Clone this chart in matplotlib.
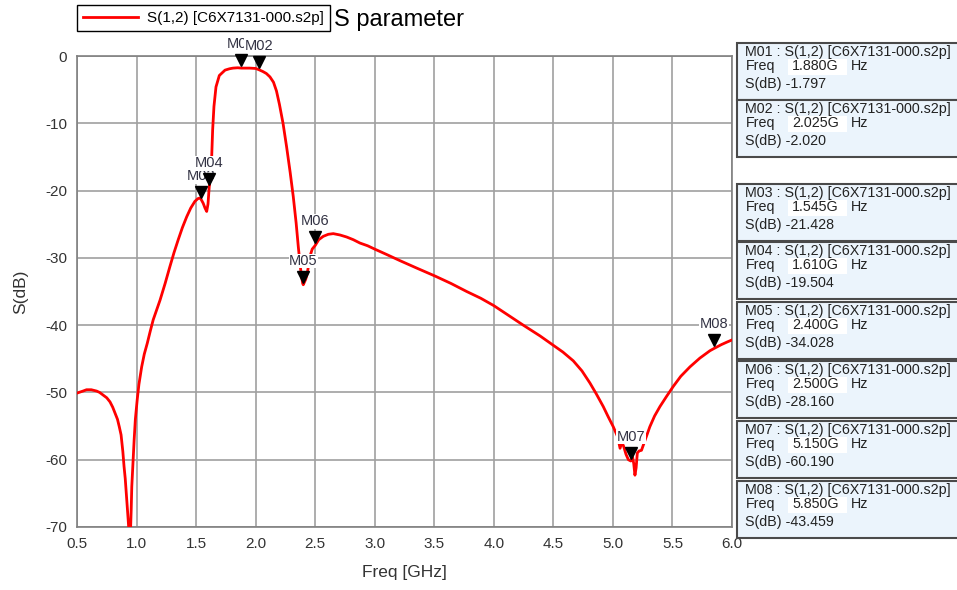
import matplotlib
matplotlib.use("Agg")
import matplotlib.pyplot as plt
from matplotlib.patches import Rectangle
from matplotlib.transforms import offset_copy

plt.rcParams['font.family'] = ['Liberation Sans', 'DejaVu Sans']

# ---- curve data ----
freq = [0.50, 0.55, 0.58, 0.62, 0.665, 0.69, 0.72, 0.75, 0.777, 0.80, 0.82, 0.84,
        0.855, 0.87, 0.875, 0.885, 0.895, 0.905, 0.91, 0.92, 0.93, 0.945, 0.955,
        0.96, 0.97, 0.98, 0.99, 1.006, 1.02, 1.043, 1.065, 1.09, 1.115, 1.14,
        1.169, 1.197, 1.24, 1.28, 1.315, 1.35, 1.385, 1.421, 1.455, 1.49, 1.515,
        1.533, 1.545, 1.56, 1.575, 1.589, 1.60, 1.61, 1.617, 1.631, 1.639, 1.65,
        1.667, 1.695, 1.743, 1.78, 1.81, 1.85, 1.88, 1.95, 2.00, 2.025, 2.06,
        2.09, 2.12, 2.15, 2.175, 2.20, 2.23, 2.26, 2.29, 2.316, 2.34, 2.358,
        2.375, 2.386, 2.395, 2.40, 2.41, 2.42, 2.43, 2.44, 2.456, 2.475, 2.50,
        2.53, 2.568, 2.61, 2.652, 2.708, 2.764, 2.82, 2.876, 2.94, 3.00, 3.10,
        3.21, 3.35, 3.506, 3.64, 3.772, 3.89, 4.00, 4.12, 4.247, 4.388, 4.50,
        4.58, 4.667, 4.74, 4.807, 4.86, 4.919, 4.96, 5.003, 5.04, 5.06, 5.075,
        5.09, 5.11, 5.13, 5.15, 5.165, 5.175, 5.185, 5.195, 5.205, 5.22, 5.24,
        5.27, 5.31, 5.35, 5.395, 5.45, 5.507, 5.57, 5.647, 5.73, 5.815, 5.85,
        5.91, 5.96, 6.00]
sdb = [-50.1, -49.8, -49.6, -49.6, -49.8, -50.0, -50.4, -50.8, -51.4, -52.2, -53.1, -54.0,
       -55.1, -56.3, -57.1, -58.8, -61.0, -62.8, -64.0, -66.5, -69.0, -73.0, -67.5,
       -64.0, -60.5, -57.0, -54.0, -51.0, -48.8, -46.2, -44.3, -42.7, -40.9, -39.2,
       -37.7, -36.3, -33.8, -31.3, -29.2, -27.3, -25.5, -23.9, -22.6, -21.6, -21.2,
       -21.1, -21.4, -21.9, -22.6, -23.1, -22.0, -19.5, -18.5, -15.0, -11.0, -7.5,
       -4.6, -2.9, -2.1, -1.9, -1.8, -1.75, -1.8, -1.8, -1.85, -2.02, -2.3,
       -2.6, -3.1, -3.9, -5.2, -7.2, -10.0, -13.5, -17.3, -20.9, -24.8, -28.3,
       -31.3, -32.8, -33.8, -34.0, -33.6, -33.2, -32.6, -31.6, -29.8, -28.7, -28.16,
       -27.3, -26.8, -26.5, -26.4, -26.6, -26.9, -27.3, -27.8, -28.2, -28.7, -29.5,
       -30.4, -31.5, -32.7, -33.8, -35.0, -36.0, -37.1, -38.5, -40.0, -41.6, -43.0,
       -44.0, -45.3, -46.8, -48.6, -50.2, -52.1, -53.6, -55.1, -56.6, -58.3, -57.4,
       -58.0, -59.2, -60.0, -60.19, -59.6, -60.6, -62.3, -61.2, -59.0, -58.7, -58.6,
       -57.1, -55.1, -53.5, -52.1, -50.6, -49.1, -47.6, -46.2, -44.9, -43.8, -43.46,
       -42.9, -42.5, -42.2]

# ---- markers ----
marker_names = ["M01", "M02", "M03", "M04", "M05", "M06", "M07", "M08"]
marker_freq = [1.880, 2.025, 1.545, 1.610, 2.400, 2.500, 5.150, 5.850]
marker_db = [-1.797, -2.020, -21.428, -19.504, -34.028, -28.160, -60.190, -43.459]
marker_freq_txt = ["1.880G", "2.025G", "1.545G", "1.610G", "2.400G", "2.500G", "5.150G", "5.850G"]
marker_db_txt = ["-1.797", "-2.020", "-21.428", "-19.504", "-34.028", "-28.160", "-60.190", "-43.459"]
# box top positions (pixels from top of figure)
box_tops = [43, 100, 184, 242, 302, 361, 421, 481]

trace_label = "S(1,2) [C6X7131-000.s2p]"
xticks = [0.5, 1.0, 1.5, 2.0, 2.5, 3.0, 3.5, 4.0, 4.5, 5.0, 5.5, 6.0]
yticks = [0, -10, -20, -30, -40, -50, -60, -70]

W, H = 957, 590
fig = plt.figure(figsize=(W / 100, H / 100), dpi=100)
ax = fig.add_axes([77 / W, 1 - 527 / H, (732 - 77) / W, (527 - 56) / H])

ax.plot(freq, sdb, color="#ff0000", lw=2.0, label=trace_label, zorder=3)
ax.set_xlim(0.5, 6.0)
ax.set_ylim(-70, 0)
ax.set_xticks(xticks)
ax.set_xticklabels([f"{t:.1f}" for t in xticks])
ax.set_yticks(yticks)
ax.set_yticklabels([str(t) for t in yticks])
ax.grid(True, color="#a0a0a0", lw=1.2)
ax.set_axisbelow(True)
ax.tick_params(length=0, labelsize=11, colors="#333333", pad=7)
for sp in ax.spines.values():
    sp.set_color("#808080")
    sp.set_linewidth(1.2)
ax.set_xlabel("Freq [GHz]", fontsize=12.5, color="#333333", labelpad=10)
ax.set_ylabel("S(dB)", fontsize=12.5, color="#333333", labelpad=12)

# markers on the trace
tri_tr = offset_copy(ax.transData, fig=fig, x=0, y=8, units='dots')
lab_tr = offset_copy(ax.transData, fig=fig, x=0, y=24, units='dots')
for i, (n, f, d) in enumerate(zip(marker_names, marker_freq, marker_db)):
    ax.text(f, d, n, transform=lab_tr, ha="center", va="center", fontsize=10.5,
            color="#333344", zorder=5 + 2 * i, clip_on=False,
            bbox=dict(facecolor="white", edgecolor="none", pad=0.3))
    ax.plot([f], [d], marker="v", color="black", markersize=8, transform=tri_tr,
            zorder=6 + 2 * i, clip_on=False, linestyle="none")

leg = ax.legend(loc="lower left", bbox_to_anchor=(0.0, 1.053), fontsize=11,
                fancybox=False, edgecolor="black", framealpha=1,
                borderpad=0.4, handlelength=3.6, handletextpad=0.6, borderaxespad=0)
leg.get_frame().set_linewidth(1.0)

fig.text(334 / W, 1 - 20 / H, "S parameter", fontsize=17, va="center", ha="left")

# marker readout boxes
bh = 57
fs = 10.3
for i in range(len(marker_names)):
    top = box_tops[i]
    fig.patches.append(Rectangle((737 / W, 1 - (top + bh) / H), 240 / W, bh / H,
                                 transform=fig.transFigure, facecolor="#ebf4fc",
                                 edgecolor="#4a4a4a", lw=1.5, zorder=1))
    fig.patches.append(Rectangle((788 / W, 1 - (top + 32) / H), 59 / W, 16 / H,
                                 transform=fig.transFigure, facecolor="white",
                                 edgecolor="none", zorder=2))
    fig.text(745 / W, 1 - (top + 9) / H, f"{marker_names[i]} : {trace_label}",
             fontsize=fs, va="center", ha="left", color="#222222", zorder=3)
    fig.text(746 / W, 1 - (top + 23) / H, "Freq", fontsize=fs, va="center",
             ha="left", color="#222222", zorder=3)
    fig.text(792 / W, 1 - (top + 23) / H, marker_freq_txt[i], fontsize=fs,
             va="center", ha="left", color="#222222", zorder=3)
    fig.text(851 / W, 1 - (top + 23) / H, "Hz", fontsize=fs, va="center",
             ha="left", color="#222222", zorder=3)
    fig.text(745 / W, 1 - (top + 41) / H, f"S(dB) {marker_db_txt[i]}", fontsize=fs,
             va="center", ha="left", color="#222222", zorder=3)

fig.savefig("out.png", dpi=100)
